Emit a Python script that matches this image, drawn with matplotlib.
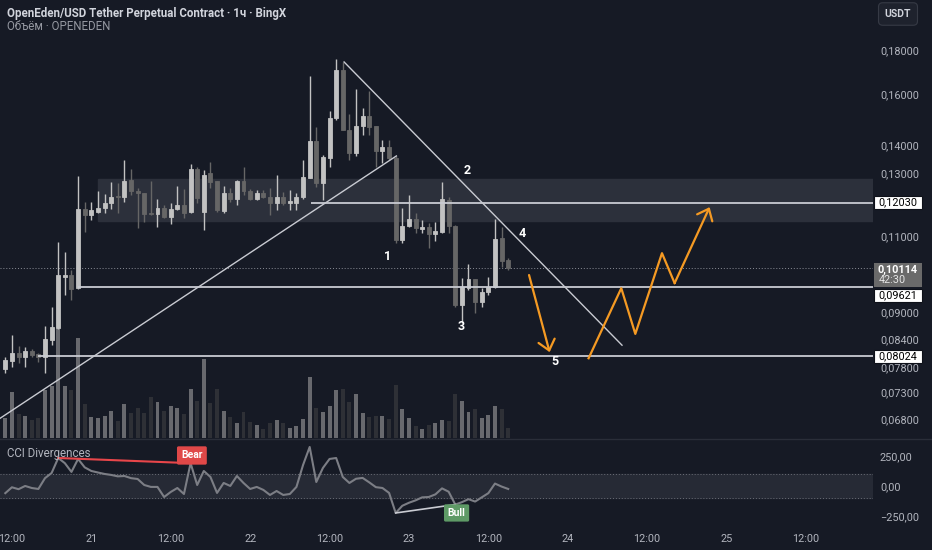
import numpy as np
import matplotlib
matplotlib.use('Agg')
import matplotlib.pyplot as plt
from matplotlib.patches import Rectangle
from matplotlib.lines import Line2D
from matplotlib.ticker import NullLocator, FuncFormatter
import matplotlib.transforms as mtransforms

plt.rcParams['font.family'] = ['Roboto', 'DejaVu Sans']

# hourly candles, 20 Nov 11:00 -> 23 Nov 15:00 (hours counted from 20th 00:00)
hours = np.arange(11, 88)

opens = [.0776, .0793, .0810, .0801, .0814, .0808, .0801, .0838, .0864, .0989,
         .0994, .0961, .1183, .1165, .1174, .1186, .1202, .1225, .1222, .1277,
         .1241, .1234, .1171, .1168, .1186, .1159, .1183, .1196, .1174, .1315,
         .1174, .1301, .1274, .1177, .1234, .1215, .1274, .1241, .1215, .1234,
         .1222, .1202, .1222, .1202, .1202, .1222, .1284, .1416, .1267, .1354,
         .1505, .1708, .1457, .1372, .1473, .1513, .1473, .1379, .1394, .1354,
         .1090, .1131, .1152, .1122, .1128, .1107, .1113, .1212, .1131, .0918,
         .0961, .0984, .0926, .0951, .0963, .1096, .1034]
highs = [.0801, .0849, .0825, .0823, .0818, .0810, .0869, .0913, .1084, .1056,
         .1007, .1290, .1206, .1206, .1241, .1231, .1270, .1267, .1347, .1315,
         .1251, .1234, .1274, .1215, .1196, .1202, .1257, .1247, .1333, .1322,
         .1311, .1340, .1274, .1257, .1251, .1277, .1322, .1247, .1244, .1244,
         .1251, .1294, .1238, .1244, .1234, .1347, .1681, .1469, .1365, .1532,
         .1760, .1744, .1520, .1624, .1544, .1616, .1473, .1420, .1420, .1361,
         .1186, .1228, .1171, .1149, .1140, .1143, .1270, .1222, .1134, .0986,
         .1023, .0984, .0961, .0989, .1152, .1128, .1040]
lows = [.0768, .0780, .0789, .0780, .0801, .0791, .0768, .0827, .0862, .0943,
        .0931, .0958, .1113, .1149, .1171, .1171, .1183, .1171, .1206, .1228,
        .1125, .1143, .1165, .1128, .1155, .1137, .1180, .1155, .1171, .1202,
        .1119, .1251, .1174, .1171, .1206, .1196, .1228, .1212, .1212, .1218,
        .1165, .1180, .1196, .1180, .1180, .1215, .1284, .1254, .1212, .1322,
        .1497, .1457, .1347, .1361, .1438, .1438, .1322, .1336, .1347, .1082,
        .1082, .1128, .1110, .1110, .1068, .1087, .1110, .1110, .0913, .0876,
        .0956, .0899, .0913, .0943, .0961, .1015, .1007]
closes = [.0795, .0810, .0801, .0814, .0805, .0801, .0840, .0866, .0994, .0994,
          .0958, .1183, .1165, .1180, .1186, .1202, .1222, .1222, .1274, .1241,
          .1234, .1168, .1168, .1186, .1159, .1183, .1196, .1171, .1315, .1218,
          .1294, .1270, .1180, .1234, .1215, .1274, .1241, .1215, .1234, .1222,
          .1202, .1222, .1202, .1209, .1222, .1287, .1416, .1267, .1358, .1505,
          .1708, .1457, .1372, .1473, .1513, .1469, .1379, .1394, .1354, .1090,
          .1131, .1152, .1125, .1128, .1107, .1116, .1215, .1131, .0918, .0963,
          .0984, .0926, .0951, .0963, .1093, .1031, .10114]
# volume, thousands
volume = [200, 460, 240, 220, 180, 200, 480, 520, 1090, 520,
          480, 1000, 340, 210, 200, 220, 270, 170, 340, 250,
          300, 250, 410, 360, 270, 320, 300, 240, 490, 370,
          790, 350, 490, 270, 210, 150, 260, 160, 130, 90,
          150, 180, 150, 100, 120, 190, 610, 300, 260, 320,
          480, 490, 360, 440, 250, 210, 220, 220, 190, 530,
          290, 200, 120, 90, 130, 150, 180, 170, 440, 370,
          260, 290, 200, 230, 320, 290, 100]
cci = [-60, -11, -27, 0, -17, -25, 65, 108, 233, 190,
       117, 225, 155, 125, 112, 100, 92, 80, 83, 65,
       58, 8, -8, -8, -92, -50, -17, -67, 190, 8,
       125, 75, -58, 25, 0, 83, 25, -25, -8, -33,
       -75, -42, -75, -67, -8, 175, 325, 33, 150, 225,
       233, 75, 25, 60, 67, 30, -10, -17, -58, -225,
       -165, -140, -120, -95, -92, -70, -20, -48, -155, -135,
       -110, -130, -95, -60, 20, -5, -25]

# drawings
levels = [0.12030, 0.09621, 0.08024]
level_start = [57.2, 22.0, 16.0]
zone_low, zone_high, zone_start = 0.1147, 0.1279, 25.05
up_line_t, up_line_p = [10.2, 70.1], [0.0681, 0.1361]
down_line_t, down_line_p = [62.2, 104.2], [0.1744, 0.0826]
arrow1_t, arrow1_p = [90.15, 93.26], [0.0994, 0.0811]
zig_t = [99.15, 104.09, 106.21, 110.24, 112.15, 117.44]
zig_p = [0.0798, 0.0960, 0.0851, 0.1053, 0.0973, 0.1189]
wave_labels = ['1', '2', '3', '4', '5']
wave_t = [68.7, 80.8, 79.9, 89.1, 94.0]
wave_p = [0.1043, 0.1311, 0.0867, 0.1108, 0.0791]

price_ticks = [0.068, 0.073, 0.078, 0.084, 0.09, 0.11, 0.13, 0.14, 0.16, 0.18]
day_ticks = [12, 24, 36, 48, 60, 72, 84, 96, 108, 120, 132]
day_labels = ['12:00', '21', '12:00', '22', '12:00', '23', '12:00', '24', '12:00', '25', '12:00']

BG = '#161a25'
TXT = '#b2b5be'
UP = '#c2c2c2'
DOWN = '#666666'
VOL_UP = '#68696e'
VOL_DOWN = '#2e3036'
ORANGE = '#f59a23'
LINE = '#c9cbd2'

W, H = 932, 550
def rect(x0, y0, x1, y1):
    return [x0 / W, 1 - y1 / H, (x1 - x0) / W, (y1 - y0) / H]

fig = plt.figure(figsize=(W / 100, H / 100), dpi=100, facecolor=BG)
ax_vol = fig.add_axes(rect(0, 0, 873, 438))
ax = fig.add_axes(rect(0, 0, 873, 438))
ax_cci = fig.add_axes(rect(0, 440, 873, 530))

XMIN, XMAX = 10.2, 142.13
for a in (ax_vol, ax, ax_cci):
    a.set_xlim(XMIN, XMAX)
    for s in a.spines.values():
        s.set_visible(False)
ax_vol.set_facecolor(BG)
ax_cci.set_facecolor(BG)
ax.set_zorder(1)
ax.patch.set_visible(False)

# volume
vol_colors = [VOL_UP if c >= o else VOL_DOWN for o, c in zip(opens, closes)]
ax_vol.bar(hours, volume, width=0.6, color=vol_colors)
ax_vol.set_ylim(0, 4380)
ax_vol.set_xticks([])
ax_vol.set_yticks([])

# candles
ax.set_yscale('log')
ax.set_ylim(0.06466, 0.20538)
colors = [UP if c >= o else DOWN for o, c in zip(opens, closes)]
ax.vlines(hours, lows, highs, colors=colors, lw=1, zorder=3)
bottoms = np.minimum(opens, closes)
heights = np.abs(np.array(closes) - np.array(opens))
ax.bar(hours, heights, bottom=bottoms, width=0.6, color=colors,
       edgecolor=colors, lw=0.6, zorder=4)

# zone and levels
ax.add_patch(Rectangle((zone_start, zone_low), XMAX - zone_start, zone_high - zone_low,
                       color='#2c303b', zorder=1))
for lv, st in zip(levels, level_start):
    ax.hlines(lv, st, XMAX, color=LINE, lw=1.3, zorder=5)
ax.axhline(closes[-1], color='#8a8d96', lw=0.7, ls=(0, (1, 2)), zorder=2)
ax.plot(up_line_t, up_line_p, color=LINE, lw=1, zorder=5)
ax.plot(down_line_t, down_line_p, color=LINE, lw=1, zorder=5)

# projected path
head = dict(arrowstyle='->,head_length=0.6,head_width=0.5', color=ORANGE,
            lw=1.6, shrinkA=0, shrinkB=0, mutation_scale=12)
ax.annotate('', xy=(arrow1_t[1], arrow1_p[1]), xytext=(arrow1_t[0], arrow1_p[0]),
            arrowprops=head, zorder=6)
ax.plot(zig_t[:-1], zig_p[:-1], color=ORANGE, lw=1.6, zorder=6)
ax.annotate('', xy=(zig_t[-1], zig_p[-1]), xytext=(zig_t[-2], zig_p[-2]),
            arrowprops=head, zorder=6)
for lab, t, p in zip(wave_labels, wave_t, wave_p):
    ax.text(t, p, lab, color='white', fontsize=9, fontweight='bold',
            ha='center', va='center', zorder=7)

# price axis
fmt = lambda v, pos=None: f'{v:.5f}'.replace('.', ',')
ax.yaxis.tick_right()
ax.set_yticks(price_ticks)
ax.yaxis.set_minor_locator(NullLocator())
ax.yaxis.set_major_formatter(FuncFormatter(fmt))
ax.tick_params(axis='y', length=0, pad=5, labelsize=7.8, labelcolor=TXT)
ax.set_xticks([])

# price tags on the axis, in pixels
ident = mtransforms.IdentityTransform()
def ypix(v):
    return ax.transData.transform((XMIN, v))[1]

def tag(v, shift=0):
    yc = ypix(v) - shift
    fig.add_artist(Rectangle((874, yc - 6.5), 48, 13, fc='white', ec='#0e1119', lw=0.8,
                             transform=ident, zorder=5))
    fig.text(898, yc, fmt(v), transform=ident, ha='center', va='center',
             fontsize=7.8, color='black', zorder=6)

tag(levels[0])
tag(levels[1], 8)
tag(levels[2])

last = closes[-1]
yl = ypix(last)
fig.add_artist(Rectangle((874, yl - 19), 48, 24, fc='#6a6a6a', ec='none', transform=ident, zorder=5))
fig.text(898, yl - 1, fmt(last), transform=ident, ha='center', va='center',
         fontsize=7.8, color='white', fontweight='bold', zorder=6)
fig.text(879, yl - 12, '42:30', transform=ident, ha='left', va='center',
         fontsize=7.8, color='#e4e4e4', zorder=6)

# CCI pane
ax_cci.set_ylim(-367, 383)
ax_cci.axhspan(-100, 100, color='#262a35', zorder=0)
ax_cci.axhline(100, color='#6a6d76', lw=0.7, ls=(0, (1, 2)))
ax_cci.axhline(-100, color='#6a6d76', lw=0.7, ls=(0, (1, 2)))
ax_cci.plot(hours, cci, color='#7c7e85', lw=1.5, zorder=3)
ax_cci.plot([hours[8], hours[28]], [cci[8], cci[28]], color='#e8464a', lw=1.5, zorder=4)
ax_cci.plot([hours[59], hours[68]], [cci[59], cci[68]], color='#c9cbd2', lw=1.2, zorder=4)
ax_cci.text(39.2, 254, 'Bear', color='white', fontsize=7.5, fontweight='bold', ha='center', va='center',
            bbox=dict(boxstyle='round,pad=0.4,rounding_size=0.15', fc='#e04848', ec='none'), zorder=5)
ax_cci.text(79.2, -225, 'Bull', color='white', fontsize=7.5, fontweight='bold', ha='center', va='center',
            bbox=dict(boxstyle='round,pad=0.35,rounding_size=0.15', fc='#5e9a66', ec='none'), zorder=5)
ax_cci.yaxis.tick_right()
ax_cci.set_yticks([250, 0, -250])
ax_cci.set_yticklabels(['250,00', '0,00', '\u2212250,00'])
ax_cci.tick_params(axis='y', length=0, pad=5, labelsize=7.8, labelcolor=TXT)
ax_cci.set_xticks(day_ticks)
ax_cci.set_xticklabels(day_labels)
ax_cci.tick_params(axis='x', length=0, pad=3, labelsize=7.8, labelcolor=TXT)

# headers and frame bits
fig.add_artist(Line2D([0, 1], [1 - 439 / H] * 2, color='#2a2e39', lw=1))
fig.text(7 / W, 1 - 14 / H, 'OpenEden/USD Tether Perpetual Contract \u00b7 1\u0447 \u00b7 BingX',
         fontsize=8.3, color='#d1d4dc', fontweight='bold', va='center')
fig.text(7 / W, 1 - 27 / H, '\u041e\u0431\u044a\u0451\u043c \u00b7 OPENEDEN',
         fontsize=8.3, color='#9598a1', va='center')
fig.text(7 / W, 1 - 453 / H, 'CCI Divergences', fontsize=8.3, color=TXT, va='center')
fig.text(898 / W, 1 - 14 / H, 'USDT', fontsize=7.5, color='#d1d4dc', fontweight='bold',
         ha='center', va='center',
         bbox=dict(boxstyle='round,pad=0.6,rounding_size=0.4', fc='#1e222d', ec='#363a45', lw=0.8))

fig.savefig('out.png', dpi=100, facecolor=BG)
